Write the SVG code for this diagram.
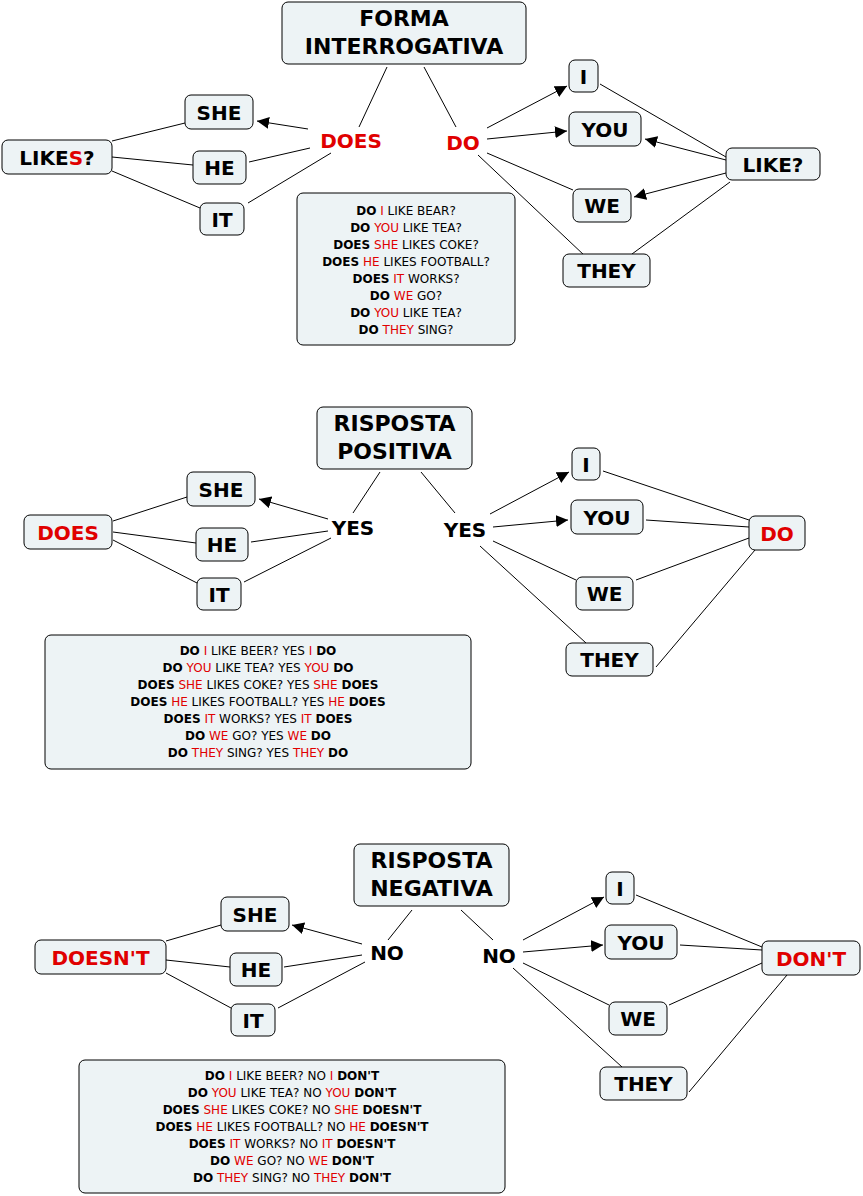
<svg xmlns="http://www.w3.org/2000/svg" width="863" height="1196" viewBox="0 0 863 1196">
<style>
.n{fill:#edf3f5;stroke:#000;stroke-width:1}
.t{font-family:"DejaVu Sans",Verdana,sans-serif;font-weight:bold;font-size:20px;text-anchor:middle;fill:#000}
.h{font-size:22px}
.r{fill:#e00000}
.s{font-family:"DejaVu Sans",Verdana,sans-serif;font-size:12px;text-anchor:middle;fill:#000}
.b{font-weight:bold}
.rr{fill:#e00000}
line{stroke:#000;stroke-width:1}
.a{marker-end:url(#m)}
</style>
<defs><marker id="m" viewBox="0 0 10 10" refX="10" refY="5" markerWidth="12" markerHeight="12" markerUnits="userSpaceOnUse" orient="auto"><path d="M0,0L10,5L0,10z" fill="#000"/></marker></defs>
<g id="connectors">
<line x1="387" y1="67" x2="359" y2="127"/><line x1="424" y1="67" x2="456" y2="127"/>
<line class="a" x1="308" y1="129" x2="257" y2="121"/><line x1="310" y1="148" x2="249" y2="162"/><line x1="331" y1="153" x2="248" y2="203"/>
<line x1="112" y1="141" x2="185" y2="123"/><line x1="112" y1="157" x2="193" y2="165"/><line x1="112" y1="171" x2="200" y2="208"/>
<line class="a" x1="487" y1="128" x2="567" y2="86"/><line class="a" x1="487" y1="139" x2="567" y2="131"/><line x1="487" y1="153" x2="573" y2="190"/><line x1="478" y1="155" x2="585" y2="256"/>
<line x1="726" y1="157" x2="600" y2="84"/><line class="a" x1="726" y1="160" x2="645" y2="139"/><line class="a" x1="726" y1="173" x2="634" y2="197"/><line x1="730" y1="182" x2="632" y2="254"/>

<line x1="380" y1="472" x2="353" y2="513"/><line x1="421" y1="472" x2="455" y2="513"/>
<line class="a" x1="328" y1="519" x2="259" y2="499"/><line x1="328" y1="531" x2="251" y2="542"/><line x1="331" y1="538" x2="244" y2="582"/>
<line x1="113" y1="521" x2="187" y2="497"/><line x1="113" y1="532" x2="196" y2="543"/><line x1="113" y1="540" x2="197" y2="583"/>
<line class="a" x1="490" y1="514" x2="569" y2="472"/><line class="a" x1="493" y1="527" x2="568" y2="520"/><line x1="493" y1="541" x2="576" y2="580"/><line x1="480" y1="546" x2="586" y2="643"/>
<line x1="749" y1="520" x2="603" y2="471"/><line x1="749" y1="527" x2="646" y2="520"/><line x1="749" y1="538" x2="636" y2="580"/><line x1="755" y1="550" x2="656" y2="667"/>

<line x1="412" y1="910" x2="388" y2="940"/><line x1="461" y1="910" x2="493" y2="940"/>
<line class="a" x1="362" y1="944" x2="292" y2="925"/><line x1="362" y1="955" x2="284" y2="967"/><line x1="365" y1="962" x2="278" y2="1008"/>
<line x1="166" y1="941" x2="221" y2="925"/><line x1="166" y1="960" x2="230" y2="967"/><line x1="166" y1="973" x2="231" y2="1008"/>
<line class="a" x1="523" y1="940" x2="604" y2="897"/><line class="a" x1="523" y1="952" x2="603" y2="945"/><line x1="523" y1="963" x2="609" y2="1005"/><line x1="513" y1="968" x2="622" y2="1067"/>
<line x1="762" y1="947" x2="636" y2="895"/><line x1="762" y1="950" x2="680" y2="945"/><line x1="762" y1="963" x2="669" y2="1005"/><line x1="787" y1="975" x2="689" y2="1092"/>
</g>

<g id="title1"><rect class="n" x="282" y="2" width="244" height="62" rx="6"/><text class="t h" x="404" y="26">FORMA</text><text class="t h" x="404" y="54">INTERROGATIVA</text></g>
<g id="she1"><rect class="n" x="185" y="95" width="68" height="34" rx="6"/><text class="t" x="219" y="120">SHE</text></g>
<g id="he1"><rect class="n" x="193" y="151" width="53" height="33" rx="6"/><text class="t" x="219.5" y="175">HE</text></g>
<g id="it1"><rect class="n" x="200" y="203" width="44" height="32" rx="6"/><text class="t" x="222" y="227">IT</text></g>
<g id="likes1"><rect class="n" x="2" y="140" width="110" height="34" rx="6"/><text class="t" x="57" y="165">LIKE<tspan class="r">S</tspan>?</text></g>
<g id="does1"><text class="t r" x="351" y="148" font-size="24">DOES</text></g>
<g id="do1"><text class="t r" x="463" y="150" font-size="24">DO</text></g>
<g id="i1"><rect class="n" x="569" y="60" width="29" height="32" rx="6"/><text class="t" x="583.5" y="84">I</text></g>
<g id="you1"><rect class="n" x="569" y="112" width="72" height="34" rx="6"/><text class="t" x="605" y="137">YOU</text></g>
<g id="we1"><rect class="n" x="573" y="189" width="58" height="33" rx="6"/><text class="t" x="602" y="213">WE</text></g>
<g id="they1"><rect class="n" x="563" y="254" width="87" height="33" rx="6"/><text class="t" x="606.5" y="278">THEY</text></g>
<g id="like1"><rect class="n" x="726" y="148" width="94" height="32" rx="6"/><text class="t" x="773" y="172">LIKE?</text></g>
<g id="box1"><rect class="n" x="297" y="193" width="218" height="152" rx="6"/>
<text class="s" x="406" y="215"><tspan class="b">DO</tspan> <tspan class="rr">I</tspan> LIKE BEAR?</text>
<text class="s" x="406" y="232"><tspan class="b">DO</tspan> <tspan class="rr">YOU</tspan> LIKE TEA?</text>
<text class="s" x="406" y="249"><tspan class="b">DOES</tspan> <tspan class="rr">SHE</tspan> LIKES COKE?</text>
<text class="s" x="406" y="266"><tspan class="b">DOES</tspan> <tspan class="rr">HE</tspan> LIKES FOOTBALL?</text>
<text class="s" x="406" y="283"><tspan class="b">DOES</tspan> <tspan class="rr">IT</tspan> WORKS?</text>
<text class="s" x="406" y="300"><tspan class="b">DO</tspan> <tspan class="rr">WE</tspan> GO?</text>
<text class="s" x="406" y="317"><tspan class="b">DO</tspan> <tspan class="rr">YOU</tspan> LIKE TEA?</text>
<text class="s" x="406" y="334"><tspan class="b">DO</tspan> <tspan class="rr">THEY</tspan> SING?</text></g>

<g id="title2"><rect class="n" x="317" y="407" width="155" height="62" rx="6"/><text class="t h" x="394.5" y="431">RISPOSTA</text><text class="t h" x="394.5" y="459">POSITIVA</text></g>
<g id="she2"><rect class="n" x="187" y="472" width="68" height="34" rx="6"/><text class="t" x="221" y="497">SHE</text></g>
<g id="he2"><rect class="n" x="196" y="528" width="52" height="33" rx="6"/><text class="t" x="222" y="552">HE</text></g>
<g id="it2"><rect class="n" x="197" y="578" width="44" height="32" rx="6"/><text class="t" x="219" y="602">IT</text></g>
<g id="does2"><rect class="n" x="24" y="515" width="88" height="34" rx="6"/><text class="t r" x="68" y="540">DOES</text></g>
<g id="yes2a"><text class="t" x="353" y="535">YES</text></g>
<g id="yes2b"><text class="t" x="465" y="537">YES</text></g>
<g id="i2"><rect class="n" x="572" y="448" width="28" height="32" rx="6"/><text class="t" x="586" y="472">I</text></g>
<g id="you2"><rect class="n" x="571" y="500" width="72" height="34" rx="6"/><text class="t" x="607" y="525">YOU</text></g>
<g id="we2"><rect class="n" x="576" y="577" width="57" height="33" rx="6"/><text class="t" x="604.5" y="601">WE</text></g>
<g id="they2"><rect class="n" x="566" y="643" width="87" height="33" rx="6"/><text class="t" x="609.5" y="667">THEY</text></g>
<g id="do2"><rect class="n" x="749" y="516" width="56" height="34" rx="6"/><text class="t r" x="777" y="541">DO</text></g>
<g id="box2"><rect class="n" x="45" y="635" width="426" height="134" rx="6"/>
<text class="s" x="258" y="655"><tspan class="b">DO</tspan> <tspan class="rr">I</tspan> LIKE BEER? YES <tspan class="rr">I</tspan> <tspan class="b">DO</tspan></text>
<text class="s" x="258" y="672"><tspan class="b">DO</tspan> <tspan class="rr">YOU</tspan> LIKE TEA? YES <tspan class="rr">YOU</tspan> <tspan class="b">DO</tspan></text>
<text class="s" x="258" y="689"><tspan class="b">DOES</tspan> <tspan class="rr">SHE</tspan> LIKES COKE? YES <tspan class="rr">SHE</tspan> <tspan class="b">DOES</tspan></text>
<text class="s" x="258" y="706"><tspan class="b">DOES</tspan> <tspan class="rr">HE</tspan> LIKES FOOTBALL? YES <tspan class="rr">HE</tspan> <tspan class="b">DOES</tspan></text>
<text class="s" x="258" y="723"><tspan class="b">DOES</tspan> <tspan class="rr">IT</tspan> WORKS? YES <tspan class="rr">IT</tspan> <tspan class="b">DOES</tspan></text>
<text class="s" x="258" y="740"><tspan class="b">DO</tspan> <tspan class="rr">WE</tspan> GO? YES <tspan class="rr">WE</tspan> <tspan class="b">DO</tspan></text>
<text class="s" x="258" y="757"><tspan class="b">DO</tspan> <tspan class="rr">THEY</tspan> SING? YES <tspan class="rr">THEY</tspan> <tspan class="b">DO</tspan></text></g>

<g id="title3"><rect class="n" x="354" y="844" width="155" height="62" rx="6"/><text class="t h" x="431.5" y="868">RISPOSTA</text><text class="t h" x="431.5" y="896">NEGATIVA</text></g>
<g id="she3"><rect class="n" x="221" y="897" width="68" height="34" rx="6"/><text class="t" x="255" y="922">SHE</text></g>
<g id="he3"><rect class="n" x="230" y="953" width="52" height="33" rx="6"/><text class="t" x="256" y="977">HE</text></g>
<g id="it3"><rect class="n" x="231" y="1004" width="44" height="32" rx="6"/><text class="t" x="253" y="1028">IT</text></g>
<g id="doesnt3"><rect class="n" x="35" y="940" width="131" height="34" rx="6"/><text class="t r" x="100.5" y="965">DOESN'T</text></g>
<g id="no3a"><text class="t" x="387" y="960">NO</text></g>
<g id="no3b"><text class="t" x="499" y="963">NO</text></g>
<g id="i3"><rect class="n" x="606" y="872" width="28" height="32" rx="6"/><text class="t" x="620" y="896">I</text></g>
<g id="you3"><rect class="n" x="605" y="925" width="72" height="34" rx="6"/><text class="t" x="641" y="950">YOU</text></g>
<g id="we3"><rect class="n" x="609" y="1002" width="58" height="33" rx="6"/><text class="t" x="638" y="1026">WE</text></g>
<g id="they3"><rect class="n" x="600" y="1067" width="87" height="33" rx="6"/><text class="t" x="643.5" y="1091">THEY</text></g>
<g id="dont3"><rect class="n" x="762" y="941" width="98" height="34" rx="6"/><text class="t r" x="811" y="966">DON'T</text></g>
<g id="box3"><rect class="n" x="79" y="1060" width="426" height="133" rx="6"/>
<text class="s" x="292" y="1080"><tspan class="b">DO</tspan> <tspan class="rr">I</tspan> LIKE BEER? NO <tspan class="rr">I</tspan> <tspan class="b">DON'T</tspan></text>
<text class="s" x="292" y="1097"><tspan class="b">DO</tspan> <tspan class="rr">YOU</tspan> LIKE TEA? NO <tspan class="rr">YOU</tspan> <tspan class="b">DON'T</tspan></text>
<text class="s" x="292" y="1114"><tspan class="b">DOES</tspan> <tspan class="rr">SHE</tspan> LIKES COKE? NO <tspan class="rr">SHE</tspan> <tspan class="b">DOESN'T</tspan></text>
<text class="s" x="292" y="1131"><tspan class="b">DOES</tspan> <tspan class="rr">HE</tspan> LIKES FOOTBALL? NO <tspan class="rr">HE</tspan> <tspan class="b">DOESN'T</tspan></text>
<text class="s" x="292" y="1148"><tspan class="b">DOES</tspan> <tspan class="rr">IT</tspan> WORKS? NO <tspan class="rr">IT</tspan> <tspan class="b">DOESN'T</tspan></text>
<text class="s" x="292" y="1165"><tspan class="b">DO</tspan> <tspan class="rr">WE</tspan> GO? NO <tspan class="rr">WE</tspan> <tspan class="b">DON'T</tspan></text>
<text class="s" x="292" y="1182"><tspan class="b">DO</tspan> <tspan class="rr">THEY</tspan> SING? NO <tspan class="rr">THEY</tspan> <tspan class="b">DON'T</tspan></text></g>
</svg>
